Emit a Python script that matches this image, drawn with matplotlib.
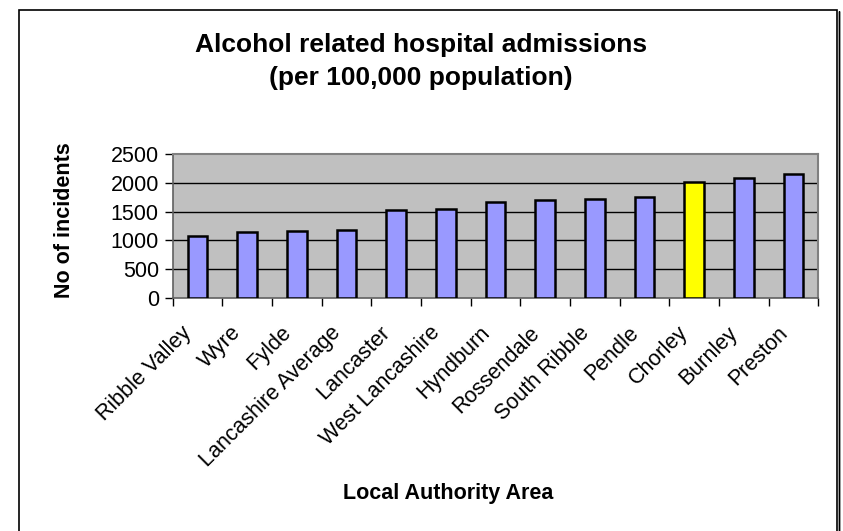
import matplotlib
matplotlib.use("Agg")
import matplotlib.pyplot as plt
from matplotlib.patches import Rectangle
from matplotlib.transforms import ScaledTranslation

plt.rcParams['font.family'] = ['Liberation Sans', 'DejaVu Sans']

categories = ["Ribble Valley", "Wyre", "Fylde", "Lancashire Average", "Lancaster",
              "West Lancashire", "Hyndburn", "Rossendale", "South Ribble", "Pendle",
              "Chorley", "Burnley", "Preston"]
values = [1076, 1151, 1163, 1180, 1529, 1541, 1668, 1703, 1721, 1755, 2012, 2081, 2162]
highlight = "Chorley"
yticks = [0, 500, 1000, 1500, 2000, 2500]

W, H = 843, 531
fig = plt.figure(figsize=(W / 100, H / 100), dpi=100)
fig.patch.set_facecolor('white')

# outer chart border
fig.patches.append(Rectangle((19 / W, -0.02), (837 - 19) / W, 1 - 10 / H + 0.02,
                             transform=fig.transFigure, fill=False,
                             edgecolor='black', linewidth=1.2, zorder=0))
fig.patches.append(Rectangle((838.5 / W, -0.02), 0.0001, 1 - 11 / H + 0.02,
                             transform=fig.transFigure, fill=False,
                             edgecolor='black', linewidth=1.0, zorder=0))

ax = fig.add_axes([172.7 / W, 1 - 297.7 / H, (818.3 - 172.7) / W, (297.7 - 154.3) / H])
ax.set_facecolor('#C0C0C0')

x = list(range(len(categories)))
colors = ['#FFFF00' if c == highlight else '#9999FF' for c in categories]
ax.bar(x, values, width=0.4, color=colors, edgecolor='black', linewidth=1.8, zorder=3)

ax.set_xlim(-0.5, len(categories) - 0.5)
ax.set_ylim(0, 2500)
ax.set_yticks(yticks)
ax.set_yticklabels([str(t) for t in yticks], fontsize=15.5)
for t in yticks[1:-1]:
    ax.axhline(t, color='black', linewidth=1.0, zorder=1)

# x ticks between categories
ax.set_xticks([i + 0.5 for i in range(-1, len(categories))], minor=False)
ax.set_xticklabels([])
ax.set_xticks(x, minor=True)
ax.set_xticklabels(categories, minor=True, rotation=45, ha='right', va='center',
                   rotation_mode='anchor', fontsize=15.5)
ax.tick_params(axis='x', which='minor', length=0, pad=23)
ax.tick_params(axis='x', which='major', length=6, width=1, color='black', direction='out')
ax.tick_params(axis='y', length=6, width=1, color='black', direction='out', pad=4)
shift = ScaledTranslation(-9 / 100, 0, fig.dpi_scale_trans)
for lab in ax.get_xticklabels(minor=True):
    lab.set_transform(lab.get_transform() + shift)

for s in ['top', 'right']:
    ax.spines[s].set_color('#808080')
    ax.spines[s].set_linewidth(1.5)
for s in ['left', 'bottom']:
    ax.spines[s].set_color('#606060')
    ax.spines[s].set_linewidth(1.2)

fig.text(421 / W, 1 - 45 / H, "Alcohol related hospital admissions",
         ha='center', va='center', fontsize=19, fontweight='bold')
fig.text(421 / W, 1 - 78 / H, "(per 100,000 population)",
         ha='center', va='center', fontsize=19, fontweight='bold')
fig.text(65 / W, 1 - 220 / H, "No of incidents", rotation=90,
         ha='center', va='center', fontsize=15.5, fontweight='bold')
fig.text(448 / W, 1 - 493 / H, "Local Authority Area",
         ha='center', va='center', fontsize=15.5, fontweight='bold')

fig.savefig("out.png", dpi=100)
